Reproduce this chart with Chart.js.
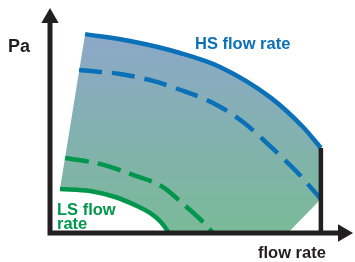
<!DOCTYPE html>
<html>
<head>
<meta charset="utf-8">
<script src="https://cdn.jsdelivr.net/npm/chart.js@4.4.1/dist/chart.umd.min.js"></script>
<style>
  html, body { margin: 0; padding: 0; background: #fff; }
  #wrap { width: 355px; height: 262px; }
</style>
</head>
<body>
<div id="wrap"><canvas id="fan"></canvas></div>
<script>
// fan working range, both axes in % of full scale
// HS flow rate curve (outer limit)
const hsFlow = [11.6, 26.4, 42.9, 56.1, 72.6, 83.5, 89.4];
const hsPa   = [88.4, 85.3, 80.0, 73.8, 60.4, 47.1, 37.8];
// intermediate curve, upper (dashed blue)
const hsMidFlow = [9.6, 23.1, 34.0, 42.2, 53.8, 63.7, 73.3, 81.5, 89.4];
const hsMidPa   = [72.4, 70.7, 67.6, 64.0, 57.8, 49.3, 37.8, 27.1, 15.1];
// LS flow rate curve (inner limit)
const lsFlow = [3.3, 13.2, 21.5, 28.1, 33.0, 36.6, 39.3];
const lsPa   = [19.6, 18.7, 16.0, 12.4, 8.9, 4.9, 0];
// intermediate curve, lower (dashed green)
const lsMidFlow = [5.0, 16.5, 27.4, 37.3, 43.6, 50.5, 53.8];
const lsMidPa   = [33.3, 30.7, 25.8, 20.4, 13.3, 4.9, 0];
// lower right cut of the shaded area
const edgeFlow = [78.5, 89.4];
const edgePa   = [0, 15.1];
// max flow limit (vertical black line)
const maxFlow = 89.4;

const BLUE = '#0a70b8';
const GREEN = '#00974d';
const DARK = '#231f20';
const FONT = "'Liberation Sans', Arial, sans-serif";

const pts = (xs, ys) => xs.map((x, i) => ({ x: x, y: ys[i] }));

const topEdge = [{ x: lsFlow[0], y: lsPa[0] }].concat(pts(hsFlow, hsPa));
const bottomEdge = pts(lsFlow, lsPa).concat(pts(edgeFlow, edgePa));

const labels = [
  { text: 'Pa', x: 8, y: 52, size: 18, color: DARK },
  { text: 'HS flow rate', x: 195, y: 49, size: 16.5, color: BLUE },
  { text: 'LS flow', x: 57, y: 215, size: 16.5, color: GREEN },
  { text: 'rate', x: 57, y: 228.5, size: 16.5, color: GREEN },
  { text: 'flow rate', x: 258, y: 258, size: 16.5, color: DARK }
];

const labelPlugin = {
  id: 'labels',
  afterDatasetsDraw(chart) {
    const c = chart.ctx;
    c.save();
    c.textBaseline = 'alphabetic';
    labels.forEach(l => {
      c.font = 'bold ' + l.size + 'px ' + FONT;
      c.fillStyle = l.color;
      c.fillText(l.text, l.x, l.y);
    });
    c.restore();
  }
};

function shade(ctx) {
  const chart = ctx.chart;
  if (!chart.chartArea) return '#82b1b0';
  const y = chart.scales.y;
  const g = chart.ctx.createLinearGradient(0, y.getPixelForValue(hsPa[0]), 0, y.getPixelForValue(0));
  g.addColorStop(0, '#8ca8c8');
  g.addColorStop(1, '#7aba98');
  return g;
}

const curve = (data, color, dash) => ({
  data: data,
  borderColor: color,
  borderWidth: 4.5,
  borderDash: dash || [],
  borderCapStyle: 'butt',
  cubicInterpolationMode: 'monotone',
  pointRadius: 0,
  fill: false,
  clip: false,
  order: 2
});

new Chart(document.getElementById('fan'), {
  type: 'scatter',
  data: {
    datasets: [
      // shaded range
      { data: topEdge, borderWidth: 0, pointRadius: 0, tension: 0, fill: 1, backgroundColor: shade, order: 9 },
      { data: bottomEdge, borderWidth: 0, pointRadius: 0, tension: 0, fill: false, order: 9 },
      curve(pts(hsMidFlow, hsMidPa), BLUE, [23, 10]),
      curve(pts(lsMidFlow, lsMidPa), GREEN, [24, 9]),
      curve(pts(hsFlow, hsPa), BLUE),
      curve(pts(lsFlow, lsPa), GREEN),
      // max flow line
      { data: [{ x: maxFlow, y: hsPa[hsPa.length - 1] }, { x: maxFlow, y: 0 }],
        borderColor: DARK, borderWidth: 4.5, borderCapStyle: 'butt', pointRadius: 0, clip: false, order: 1 },
      // axes
      { data: [{ x: 0, y: 95 }, { x: 0, y: 0 }, { x: 96, y: 0 }],
        borderColor: DARK, borderWidth: 5, borderJoinStyle: 'miter', borderCapStyle: 'butt',
        pointRadius: 0, clip: false, order: 0 },
      { data: [{ x: 0, y: 95.6 }], showLine: false, pointStyle: 'triangle', pointRadius: 10,
        pointRotation: 0, pointBackgroundColor: DARK, pointBorderWidth: 0, clip: false, order: 0 },
      { data: [{ x: 96.7, y: 0 }], showLine: false, pointStyle: 'triangle', pointRadius: 10,
        pointRotation: 90, pointBackgroundColor: DARK, pointBorderWidth: 0, clip: false, order: 0 }
    ]
  },
  options: {
    responsive: true,
    maintainAspectRatio: false,
    animation: false,
    events: [],
    showLine: true,
    layout: { autoPadding: false, padding: { left: 50, right: 2, top: 8, bottom: 29 } },
    scales: {
      x: { type: 'linear', min: 0, max: 100, display: false },
      y: { type: 'linear', min: 0, max: 100, display: false }
    },
    plugins: {
      legend: { display: false },
      tooltip: { enabled: false },
      filler: { drawTime: 'beforeDatasetsDraw' }
    }
  },
  plugins: [labelPlugin]
});
</script>
</body>
</html>
